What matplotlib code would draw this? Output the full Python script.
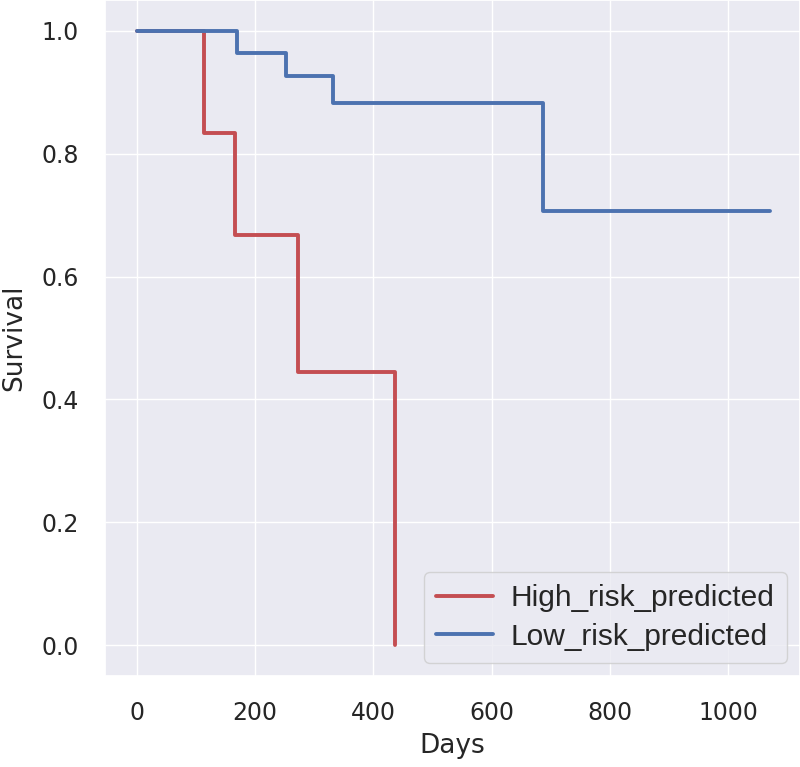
import matplotlib
matplotlib.use("Agg")
import matplotlib.pyplot as plt
import seaborn as sns

sns.set_theme(style="darkgrid")
plt.rcParams['font.family'] = ['DejaVu Sans']

high_days = [0, 113, 166, 272, 437]
high_surv = [1.0, 0.833, 0.667, 0.444, 0.0]
low_days = [0, 169, 252, 331, 686, 1070]
low_surv = [1.0, 0.964, 0.926, 0.882, 0.706, 0.706]

fig = plt.figure(figsize=(8, 7.67), dpi=100)
ax = fig.add_axes([105/800, (767-676)/767, 695/800, 676/767])

ax.step(high_days, high_surv, where='post', color='#c44e52', lw=2.8, label='High_risk_predicted')
ax.step(low_days, low_surv, where='post', color='#4c72b0', lw=2.8, label='Low_risk_predicted')

ax.set_xlim(-53.5, 1121)
ax.set_ylim(-0.05, 1.05)
ax.set_xticks([0, 200, 400, 600, 800, 1000])
ax.set_yticks([0.0, 0.2, 0.4, 0.6, 0.8, 1.0])
ax.set_yticklabels(['0.0', '0.2', '0.4', '0.6', '0.8', '1.0'])
ax.tick_params(axis='x', labelsize=17, colors='#262626', pad=12)
ax.tick_params(axis='y', labelsize=17, colors='#262626', pad=13)
ax.set_xlabel('Days', fontsize=19, color='#262626', labelpad=6)
ax.set_ylabel('Survival', fontsize=19, color='#262626', labelpad=10)

leg = ax.legend(loc='lower right', prop={'family': 'Liberation Sans', 'size': 21.5},
                handlelength=1.9, handletextpad=0.6, labelspacing=0.35,
                borderaxespad=0.45)
for l in leg.get_lines():
    l.set_linewidth(2.8)

fig.savefig('out.png', dpi=100)
